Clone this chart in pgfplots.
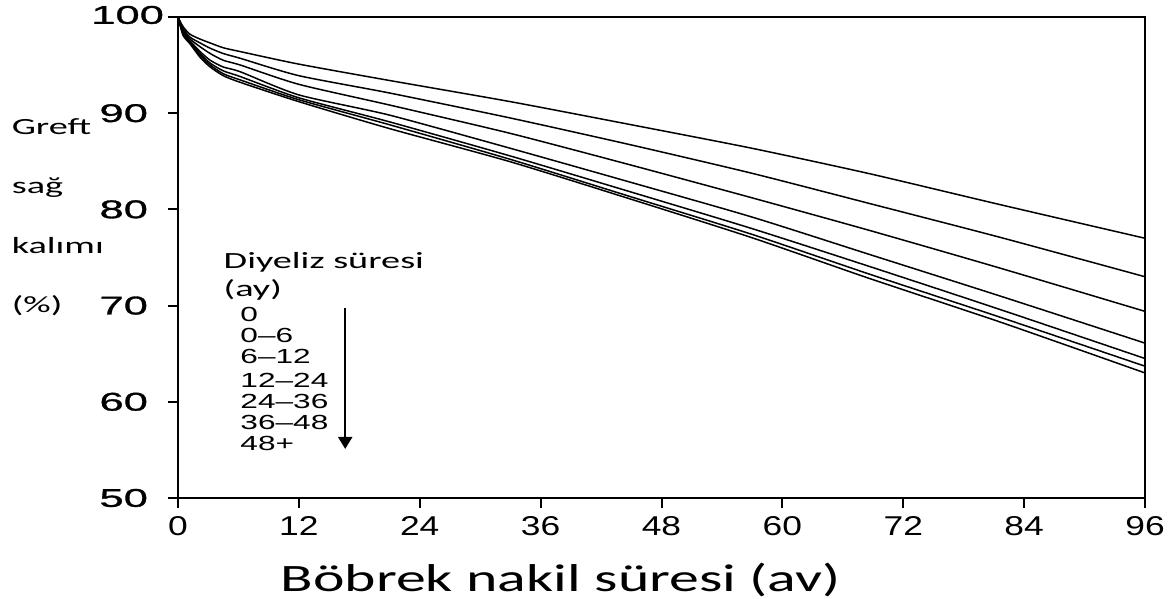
\documentclass[border=0pt]{standalone}
\usepackage{pgfplots}
\pgfplotsset{compat=1.18}
\usepackage{pgfplotstable}
\usepackage{fontspec}
\usetikzlibrary{calc,arrows.meta}
\setmainfont{Liberation Sans}
\newfontfamily\ytickfont[FakeStretch=1.7,FakeBold=1.2]{Liberation Sans}
\newfontfamily\xtickfont[FakeStretch=1.3]{Liberation Sans}
\newfontfamily\legfont[FakeStretch=1.55]{Liberation Sans}
\newfontfamily\labfont[FakeStretch=1.65]{Carlito}
\newfontfamily\xlabfont[FakeStretch=1.54]{Carlito}

\pgfplotstableread{
x     c1    c2    c3    c4    c5    c6    c7
0     100   100   100   100   100   100   100
0.5   99.0  98.8  98.6  98.4  98.3  98.2  98.1
1.2   98.2  97.9  97.7  97.5  97.4  97.3  97.2
2.2   97.7  97.3  96.9  96.4  96.2  96.0  95.8
3.2   97.3  96.75 96.2  95.5  95.2  95.0  94.8
4.5   96.8  96.2  95.5  94.8  94.4  94.1  93.9
6.2   96.4  95.7  95.0  94.3  93.8  93.45 93.2
12    95.1  93.9  93.0  91.9  91.6  91.4  91.2
21    93.4  92.1  90.85 89.8  89.1  88.8  88.4
33    91.2  89.5  87.9  86.35 85.55 85.2  84.95
45    88.8  86.7  84.6  82.8  81.8  81.3  81.05
57    86.35 83.75 81.2  79.2  78.0  77.4  77.05
68.7  83.7  80.6  77.8  75.3  74.05 73.25 72.8
81.6  80.5  77.1  73.9  71.0  69.6  68.8  68.3
96    77.0  73.0  69.4  66.1  64.5  63.7  63.0
}\survival

\tikzset{lab/.style={anchor=base west, font=\labfont\fontsize{11.6}{13}\selectfont},
         leg/.style={anchor=base west, inner sep=0pt, font=\legfont\fontsize{10.2}{12}\selectfont},
         crv/.style={black, line width=0.75pt, smooth, tension=0.4}}

\begin{document}
\begin{tikzpicture}
\begin{axis}[
  scale only axis,
  width=483.5pt, height=240.5pt,
  xmin=0, xmax=96, ymin=50, ymax=100,
  xtick={0,12,...,96}, ytick={50,60,...,90},
  extra y ticks={100},
  extra y tick style={yticklabel style={xshift=8pt, yshift=1pt}},
  tick align=outside, xtick pos=bottom, ytick pos=left,
  major tick length=5pt,
  axis line style={line width=1pt},
  every tick/.style={line width=1pt, black},
  /pgf/number format/assume math mode=true,
  yticklabel style={font=\ytickfont\fontsize{12.8}{14}\selectfont, anchor=east, xshift=-6.5pt},
  xticklabel style={font=\xtickfont\fontsize{13.6}{15}\selectfont, anchor=north, yshift=-0.5pt},
  clip=false,
]
\addplot[crv] table[x=x, y=c1] {\survival};
\addplot[crv] table[x=x, y=c2] {\survival};
\addplot[crv] table[x=x, y=c3] {\survival};
\addplot[crv] table[x=x, y=c4] {\survival};
\addplot[crv] table[x=x, y=c5] {\survival};
\addplot[crv] table[x=x, y=c6] {\survival};
\addplot[crv] table[x=x, y=c7] {\survival};
% y label words
\node[lab] at (axis cs:-17.2,87.8) {Greft};
\node[lab] at (axis cs:-17.2,81.67) {sağ};
\node[lab] at (axis cs:-17.2,75.44) {kalımı};
\node[lab] at (axis cs:-17.2,69.3) {(\%)};
% legend
\node[anchor=base west, inner sep=0pt, font=\labfont\fontsize{11.6}{13}\selectfont] at (axis cs:4.5,73.88) {Diyeliz süresi};
\node[anchor=base west, inner sep=0pt, font=\labfont\fontsize{11.6}{13}\selectfont] at (axis cs:4.5,70.93) {(ay)};
\node[leg] at (axis cs:6.16,68.33) {0};
\node[leg] at (axis cs:6.16,66.14) {0–6};
\node[leg] at (axis cs:6.16,63.93) {6–12};
\node[leg] at (axis cs:6.16,61.47) {12–24};
\node[leg] at (axis cs:6.16,59.32) {24–36};
\node[leg] at (axis cs:6.16,57.17) {36–48};
\node[leg] at (axis cs:6.16,54.99) {48+};
\draw[line width=1.1pt, -{Triangle[length=6pt,width=7pt]}] (axis cs:16.6,69.75) -- (axis cs:16.6,55.1);
% x label
\node[anchor=base, inner sep=0pt, font=\xlabfont\fontsize{19.4}{22}\selectfont] at (axis cs:38.0,40.23) {Böbrek nakil süresi (av)};
\end{axis}
\pgfresetboundingbox
\path ($(current axis.south west)+(-89pt,-50pt)$) rectangle ($(current axis.north east)+(15.5pt,8.5pt)$);
\end{tikzpicture}
\end{document}
